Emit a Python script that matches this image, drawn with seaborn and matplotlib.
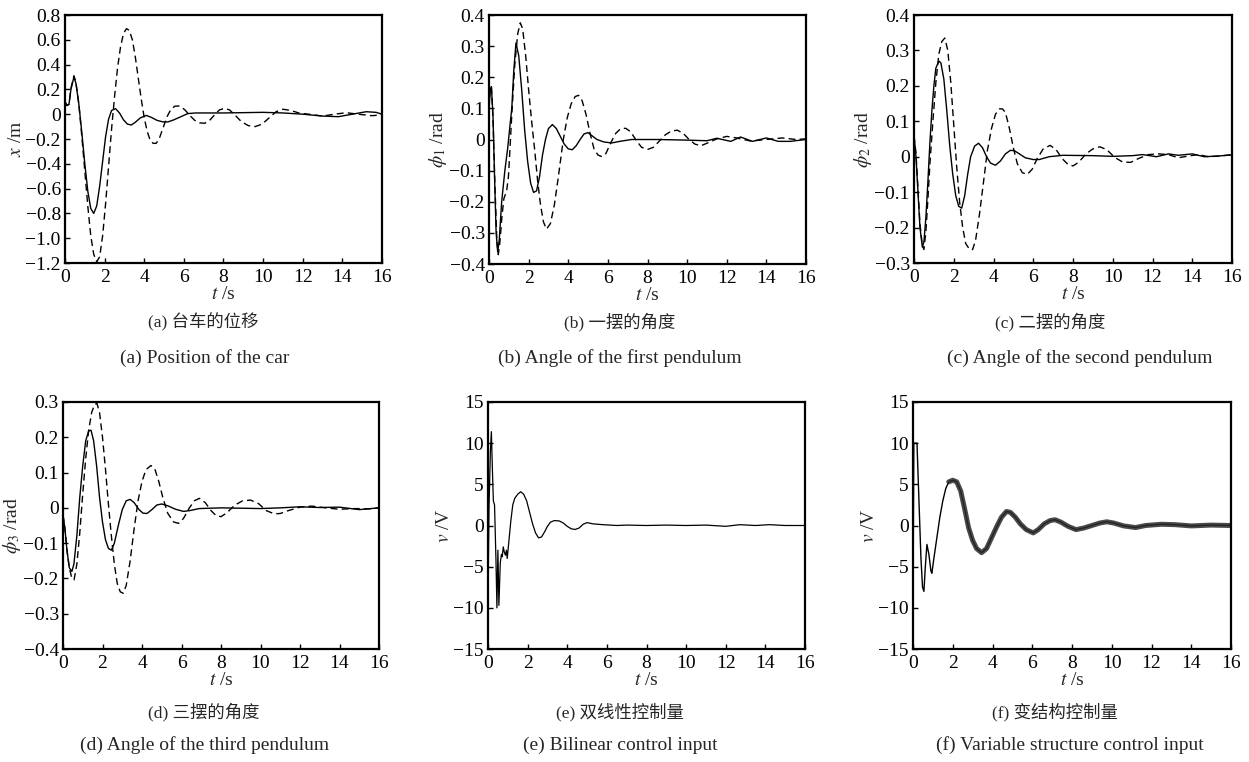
import numpy as np
import pandas as pd
import matplotlib
matplotlib.use('Agg')
import matplotlib.pyplot as plt
import seaborn as sns
from matplotlib.ticker import FuncFormatter

# ---------------- values ----------------
# (a) cart position x / m
t_a_s = [0.0, 0.1, 0.2, 0.3, 0.45, 0.55, 0.7, 0.85, 1.0, 1.15, 1.3, 1.45, 1.6, 1.75, 1.9, 2.05,
         2.2, 2.35, 2.55, 2.75, 2.95, 3.15, 3.35, 3.55, 3.8, 4.1, 4.35, 4.65, 4.95, 5.2, 5.5, 5.85,
         6.2, 6.6, 8.0, 10.0, 11.0, 12.0, 13.0, 13.8, 14.5, 15.2, 15.7, 16.0]
x_a_s = [0.10, 0.07, 0.08, 0.20, 0.30, 0.25, 0.08, -0.15, -0.40, -0.62, -0.76, -0.80, -0.74, -0.58,
         -0.38, -0.18, -0.04, 0.03, 0.045, 0.01, -0.045, -0.08, -0.087, -0.065, -0.03, -0.01,
         -0.025, -0.05, -0.062, -0.062, -0.045, -0.02, 0.005, 0.01, 0.01, 0.015, 0.01, 0.0,
         -0.015, -0.02, 0.0, 0.02, 0.015, 0.0]
t_a_d = [0.0, 0.1, 0.2, 0.3, 0.45, 0.55, 0.7, 0.85, 1.0, 1.15, 1.3, 1.45, 1.6, 1.75, 1.9, 2.05,
         2.2, 2.35, 2.5, 2.65, 2.8, 2.95, 3.1, 3.25, 3.4, 3.55, 3.7, 3.85, 4.0, 4.15, 4.3, 4.45,
         4.6, 4.75, 4.95, 5.15, 5.35, 5.55, 5.8, 6.05, 6.3, 6.55, 6.8, 7.05, 7.3, 7.55, 7.8, 8.05,
         8.3, 8.6, 8.9, 9.25, 9.6, 9.95, 10.3, 10.65, 11.0, 11.4, 11.8, 12.3, 13.0, 13.6, 14.2,
         14.8, 15.5, 16.0]
x_a_d = [0.10, 0.07, 0.08, 0.21, 0.31, 0.26, 0.08, -0.18, -0.46, -0.74, -0.98, -1.13, -1.19,
         -1.15, -0.98, -0.72, -0.42, -0.12, 0.14, 0.37, 0.54, 0.65, 0.69, 0.675, 0.60, 0.46, 0.29,
         0.12, -0.03, -0.14, -0.21, -0.235, -0.235, -0.20, -0.11, -0.02, 0.04, 0.065, 0.066,
         0.035, -0.01, -0.05, -0.07, -0.073, -0.05, -0.005, 0.035, 0.047, 0.035, -0.01, -0.06,
         -0.092, -0.10, -0.08, -0.03, 0.02, 0.04, 0.03, 0.01, 0.0, -0.015, 0.0, 0.012, 0.0,
         -0.012, -0.005]

# (b) first pendulum angle / rad
t_b_s = [0.0, 0.06, 0.12, 0.2, 0.28, 0.36, 0.44, 0.52, 0.64, 0.8, 0.94, 1.05, 1.15, 1.25, 1.36,
         1.5, 1.65, 1.8, 1.95, 2.1, 2.25, 2.4, 2.55, 2.7, 2.85, 3.0, 3.2, 3.4, 3.6, 3.8, 4.0, 4.2,
         4.4, 4.6, 4.8, 5.0, 5.2, 5.45, 5.8, 6.2, 6.6, 7.2, 8.5, 10.0, 11.0, 11.5, 12.2, 12.7,
         13.3, 14.0, 14.6, 15.2, 16.0]
p_b_s = [0.10, 0.16, 0.17, 0.08, -0.12, -0.30, -0.362, -0.32, -0.20, -0.10, -0.03, 0.04, 0.10,
         0.22, 0.31, 0.27, 0.16, 0.03, -0.07, -0.14, -0.17, -0.165, -0.12, -0.05, 0.0, 0.035,
         0.048, 0.035, 0.01, -0.015, -0.03, -0.033, -0.02, 0.0, 0.018, 0.022, 0.012, 0.0, -0.008,
         -0.011, -0.006, 0.0, 0.0, -0.002, -0.004, 0.004, -0.006, 0.008, -0.006, 0.005, -0.006,
         -0.006, 0.0]
t_b_d = [0.0, 0.06, 0.12, 0.2, 0.3, 0.4, 0.47, 0.55, 0.65, 0.75, 0.89, 0.98, 1.05, 1.15, 1.3,
         1.45, 1.58, 1.7, 1.85, 2.0, 2.15, 2.3, 2.45, 2.6, 2.75, 2.9, 3.1, 3.3, 3.5, 3.75, 3.95,
         4.15, 4.35, 4.52, 4.7, 4.9, 5.1, 5.3, 5.5, 5.7, 5.9, 6.15, 6.4, 6.65, 6.9, 7.15, 7.4,
         7.7, 8.0, 8.3, 8.6, 8.9, 9.2, 9.5, 9.8, 10.1, 10.4, 10.7, 11.0, 11.5, 12.0, 12.5, 13.2,
         14.0, 14.8, 15.5, 16.0]
p_b_d = [0.10, 0.16, 0.17, 0.07, -0.15, -0.33, -0.37, -0.33, -0.25, -0.19, -0.165, -0.12, -0.04,
         0.08, 0.24, 0.34, 0.375, 0.355, 0.27, 0.16, 0.06, -0.03, -0.13, -0.21, -0.265, -0.288,
         -0.27, -0.21, -0.12, 0.0, 0.07, 0.115, 0.138, 0.142, 0.125, 0.08, 0.02, -0.03, -0.05,
         -0.055, -0.045, -0.01, 0.02, 0.035, 0.036, 0.025, 0.0, -0.025, -0.032, -0.025, -0.005,
         0.015, 0.027, 0.03, 0.02, 0.0, -0.015, -0.02, -0.012, 0.002, 0.01, 0.005, -0.005, 0.0,
         0.005, 0.0, 0.002]

# (c) second pendulum angle / rad
t_c_s = [0.0, 0.1, 0.2, 0.3, 0.42, 0.5, 0.6, 0.7, 0.8, 0.9, 1.0, 1.1, 1.25, 1.35, 1.5, 1.65, 1.8,
         1.95, 2.1, 2.25, 2.4, 2.55, 2.7, 2.85, 3.05, 3.25, 3.45, 3.65, 3.85, 4.1, 4.35, 4.6, 4.85,
         5.05, 5.3, 5.6, 6.0, 6.3, 6.8, 7.5, 9.0, 10.0, 11.0, 11.5, 12.2, 12.8, 13.3, 14.0, 14.6,
         15.3, 16.0]
p_c_s = [0.06, 0.0, -0.10, -0.20, -0.255, -0.24, -0.17, -0.07, 0.04, 0.13, 0.20, 0.25, 0.27,
         0.265, 0.22, 0.13, 0.03, -0.05, -0.11, -0.14, -0.145, -0.11, -0.05, 0.0, 0.03, 0.038,
         0.025, 0.0, -0.018, -0.024, -0.012, 0.008, 0.018, 0.017, 0.008, -0.003, -0.008, -0.008,
         0.0, 0.004, 0.003, 0.001, 0.003, 0.006, 0.0, 0.008, 0.004, 0.008, 0.0, 0.002, 0.005]
t_c_d = [0.0, 0.1, 0.2, 0.3, 0.42, 0.5, 0.6, 0.7, 0.8, 0.95, 1.1, 1.25, 1.4, 1.55, 1.7, 1.85,
         2.0, 2.15, 2.3, 2.45, 2.6, 2.8, 2.95, 3.1, 3.3, 3.5, 3.7, 3.9, 4.1, 4.3, 4.45, 4.6, 4.8,
         5.0, 5.2, 5.45, 5.7, 5.95, 6.2, 6.5, 6.85, 7.15, 7.45, 7.75, 8.0, 8.3, 8.65, 9.0, 9.35,
         9.7, 10.1, 10.5, 10.9, 11.3, 11.8, 12.3, 12.8, 13.3, 13.8, 14.3, 14.8, 15.4, 16.0]
p_c_d = [0.06, 0.01, -0.09, -0.19, -0.25, -0.262, -0.21, -0.12, -0.02, 0.10, 0.21, 0.29, 0.325,
         0.335, 0.30, 0.21, 0.09, -0.03, -0.13, -0.20, -0.245, -0.262, -0.262, -0.235, -0.16,
         -0.07, 0.02, 0.08, 0.12, 0.135, 0.135, 0.125, 0.08, 0.025, -0.02, -0.045, -0.05, -0.035,
         -0.005, 0.022, 0.032, 0.02, -0.005, -0.022, -0.026, -0.015, 0.008, 0.022, 0.028, 0.02,
         -0.002, -0.015, -0.016, -0.005, 0.006, 0.008, 0.006, -0.003, 0.002, 0.006, 0.0, 0.002,
         0.006]

# (d) third pendulum angle / rad
t_d_s = [0.0, 0.1, 0.2, 0.32, 0.45, 0.55, 0.7, 0.85, 1.0, 1.15, 1.3, 1.42, 1.55, 1.7, 1.85, 2.0,
         2.15, 2.3, 2.45, 2.6, 2.8, 3.0, 3.2, 3.4, 3.6, 3.85, 4.05, 4.25, 4.5, 4.75, 5.0, 5.3,
         5.7, 6.1, 6.4, 6.9, 8.0, 10.0, 11.0, 12.0, 13.0, 14.0, 15.0, 16.0]
p_d_s = [-0.02, -0.06, -0.12, -0.17, -0.18, -0.16, -0.08, 0.03, 0.12, 0.19, 0.218, 0.22, 0.19,
         0.12, 0.03, -0.04, -0.09, -0.115, -0.12, -0.10, -0.05, -0.005, 0.02, 0.024, 0.015,
         -0.005, -0.015, -0.016, -0.005, 0.008, 0.011, 0.006, -0.004, -0.01, -0.008, -0.002, 0.0,
         -0.002, 0.0, 0.003, 0.001, 0.002, -0.005, 0.0]
t_d_d = [0.0, 0.1, 0.2, 0.32, 0.45, 0.56, 0.7, 0.85, 1.0, 1.15, 1.3, 1.45, 1.6, 1.72, 1.85, 2.0,
         2.15, 2.3, 2.45, 2.6, 2.75, 2.9, 3.05, 3.2, 3.4, 3.6, 3.8, 4.0, 4.2, 4.45, 4.65, 4.85,
         5.05, 5.3, 5.6, 5.85, 6.1, 6.4, 6.65, 6.9, 7.2, 7.5, 7.75, 8.0, 8.3, 8.7, 9.1, 9.5, 9.9,
         10.3, 10.7, 11.0, 11.4, 12.0, 12.6, 13.3, 14.0, 14.8, 15.5, 16.0]
p_d_d = [-0.02, -0.06, -0.12, -0.17, -0.20, -0.204, -0.16, -0.07, 0.04, 0.14, 0.22, 0.27, 0.293,
         0.296, 0.27, 0.20, 0.11, 0.01, -0.08, -0.16, -0.215, -0.238, -0.242, -0.22, -0.15,
         -0.06, 0.02, 0.075, 0.108, 0.12, 0.11, 0.075, 0.03, -0.015, -0.04, -0.044, -0.03, 0.0,
         0.02, 0.027, 0.015, -0.008, -0.022, -0.025, -0.014, 0.008, 0.02, 0.022, 0.012, -0.008,
         -0.017, -0.016, -0.008, 0.002, 0.005, 0.0, -0.004, -0.002, -0.003, 0.0]

# (e) bilinear control input / V
t_e = [0.0, 0.05, 0.12, 0.17, 0.22, 0.27, 0.33, 0.4, 0.45, 0.5, 0.55, 0.62, 0.68, 0.72, 0.77,
       0.82, 0.88, 0.93, 0.97, 1.05, 1.15, 1.25, 1.35, 1.5, 1.65, 1.8, 1.95, 2.1, 2.25, 2.4,
       2.55, 2.7, 2.85, 3.0, 3.15, 3.35, 3.6, 3.8, 4.0, 4.2, 4.4, 4.6, 4.8, 5.0, 5.3, 5.8, 6.5,
       7.0, 8.0, 9.0, 10.0, 11.0, 12.0, 12.7, 13.5, 14.2, 15.0, 16.0]
v_e = [-9.0, 2.0, 9.0, 11.4, 7.0, 3.0, 2.5, -4.0, -10.0, -3.0, -9.7, -4.5, -3.5, -3.8, -2.6,
       -3.2, -3.6, -3.0, -4.0, -2.0, 0.5, 2.5, 3.3, 3.8, 4.1, 3.8, 3.0, 1.6, 0.2, -0.9, -1.5,
       -1.4, -0.8, -0.1, 0.4, 0.6, 0.55, 0.3, -0.1, -0.4, -0.48, -0.3, 0.15, 0.35, 0.2, 0.1,
       0.0, 0.05, 0.0, 0.05, 0.0, 0.05, -0.1, 0.1, 0.0, 0.1, 0.0, 0.0]

# (f) variable structure control input / V
t_f = [0.0, 0.04, 0.2, 0.3, 0.4, 0.48, 0.55, 0.62, 0.7, 0.8, 0.9, 0.95, 1.05, 1.2, 1.35, 1.5,
       1.65, 1.8, 2.0, 2.2, 2.4, 2.6, 2.8, 3.0, 3.2, 3.45, 3.7, 3.95, 4.2, 4.45, 4.7, 4.9, 5.15,
       5.4, 5.7, 6.05, 6.3, 6.6, 6.9, 7.15, 7.45, 7.8, 8.2, 8.6, 9.0, 9.4, 9.75, 10.1, 10.6,
       11.2, 11.7, 12.5, 13.2, 14.0, 15.0, 16.0]
v_f = [-10.0, 10.0, 10.0, 3.0, -4.0, -7.5, -8.0, -5.0, -2.3, -3.5, -5.5, -5.8, -4.0, -1.5, 1.0,
       3.0, 4.5, 5.3, 5.5, 5.3, 4.2, 2.0, -0.3, -1.8, -2.8, -3.3, -2.8, -1.5, -0.2, 1.0, 1.7,
       1.6, 1.0, 0.2, -0.5, -0.9, -0.5, 0.2, 0.6, 0.7, 0.4, -0.1, -0.5, -0.3, 0.0, 0.3, 0.45,
       0.3, -0.05, -0.25, 0.0, 0.15, 0.1, -0.05, 0.05, 0.0]

x_ticks = [0, 2, 4, 6, 8, 10, 12, 14, 16]
y_ticks_a = [-1.2, -1.0, -0.8, -0.6, -0.4, -0.2, 0, 0.2, 0.4, 0.6, 0.8]
y_ticks_b = [-0.4, -0.3, -0.2, -0.1, 0, 0.1, 0.2, 0.3, 0.4]
y_ticks_c = [-0.3, -0.2, -0.1, 0, 0.1, 0.2, 0.3, 0.4]
y_ticks_d = [-0.4, -0.3, -0.2, -0.1, 0, 0.1, 0.2, 0.3]
y_ticks_v = [-15, -10, -5, 0, 5, 10, 15]

y_labels = [r'$x$ /m', r'$\phi_1$ /rad', r'$\phi_2$ /rad', r'$\phi_3$ /rad', r'$v$ /V', r'$v$ /V']
captions_cn = ['(a) 台车的位移', '(b) 一摆的角度', '(c) 二摆的角度',
               '(d) 三摆的角度', '(e) 双线性控制量', '(f) 变结构控制量']
captions_en = ['(a) Position of the car', '(b) Angle of the first pendulum',
               '(c) Angle of the second pendulum', '(d) Angle of the third pendulum',
               '(e) Bilinear control input', '(f) Variable structure control input']

# ---------------- styling ----------------
sns.set_style('ticks')
plt.rcParams['font.family'] = ['Liberation Serif', 'Noto Sans CJK SC', 'DejaVu Sans']
plt.rcParams['mathtext.fontset'] = 'stix'
plt.rcParams['axes.unicode_minus'] = True

W, H = 1249, 762
fig = plt.figure(figsize=(W / 100, H / 100), dpi=100)

# axes boxes in pixels: left, top, right, bottom
boxes = [(65, 15, 382, 263), (489, 15, 806, 264), (914, 15, 1232, 263),
         (63, 402, 379, 649), (488, 402, 805, 649), (913, 402, 1231, 649)]
axes = [fig.add_axes([l / W, 1 - b / H, (r - l) / W, (b - t) / H]) for l, t, r, b in boxes]


def fmt1(v, pos):
    s = '0' if abs(v) < 1e-9 else f'{v:.1f}'
    return s.replace('-', '\u2212')


def fmt0(v, pos):
    s = '0' if abs(v) < 1e-9 else f'{v:.0f}'
    return s.replace('-', '\u2212')


def pair(ax, ts, ys, td, yd):
    sns.lineplot(x=ts, y=ys, ax=ax, color='k', linewidth=1.0, estimator=None, sort=False)
    sns.lineplot(x=td, y=yd, ax=ax, color='k', linewidth=1.0, estimator=None, sort=False)
    ax.lines[-1].set_dashes([5, 3])


pair(axes[0], t_a_s, x_a_s, t_a_d, x_a_d)
pair(axes[1], t_b_s, p_b_s, t_b_d, p_b_d)
pair(axes[2], t_c_s, p_c_s, t_c_d, p_c_d)
pair(axes[3], t_d_s, p_d_s, t_d_d, p_d_d)

sns.lineplot(x=t_e, y=v_e, ax=axes[4], color='k', linewidth=0.9, estimator=None, sort=False)

df_f = pd.DataFrame({'t': t_f, 'v': v_f})
sns.lineplot(data=df_f, x='t', y='v', ax=axes[5], color='k', linewidth=1.0,
             estimator=None, sort=False)
# chattering band of the sliding-mode input
sns.lineplot(data=df_f[df_f['t'] >= 1.8], x='t', y='v', ax=axes[5], color='#2a2a2a',
             linewidth=3.6, alpha=0.85, estimator=None, sort=False)

limits = [(-1.2, 0.8, y_ticks_a, fmt1), (-0.4, 0.4, y_ticks_b, fmt1),
          (-0.3, 0.4, y_ticks_c, fmt1), (-0.4, 0.3, y_ticks_d, fmt1),
          (-15, 15, y_ticks_v, fmt0), (-15, 15, y_ticks_v, fmt0)]

for i, ax in enumerate(axes):
    lo, hi, yt, f = limits[i]
    ax.set_xlim(0, 16)
    ax.set_ylim(lo, hi)
    ax.set_xticks(x_ticks)
    ax.set_yticks(yt)
    ax.yaxis.set_major_formatter(FuncFormatter(f))
    ax.xaxis.set_major_formatter(FuncFormatter(fmt0))
    ax.tick_params(direction='in', length=3.5, width=1.0, labelsize=14, pad=3,
                   top=False, right=False, colors='k')
    ax.tick_params(axis='x', pad=4)
    for sp in ax.spines.values():
        sp.set_linewidth(1.6)
        sp.set_color('k')
    ax.set_xlabel(r'$t$ /s', fontsize=14, labelpad=0.5)
    ax.set_ylabel(y_labels[i], fontsize=14, labelpad=0)
    ax.set_facecolor('white')

# captions, centres in pixels
cn_pos = [(203, 322), (620, 322), (1050, 322), (204, 712), (620, 712), (1055, 712)]
en_pos = [(205, 358), (620, 358), (1080, 358), (205, 745), (620, 745), (1070, 745)]
for i in range(6):
    x, y = cn_pos[i]
    fig.text(x / W, 1 - y / H, captions_cn[i], ha='center', va='center', fontsize=12.5)
    x, y = en_pos[i]
    fig.text(x / W, 1 - y / H, captions_en[i], ha='center', va='center', fontsize=14)

fig.savefig('out.png', dpi=100, facecolor='white')
